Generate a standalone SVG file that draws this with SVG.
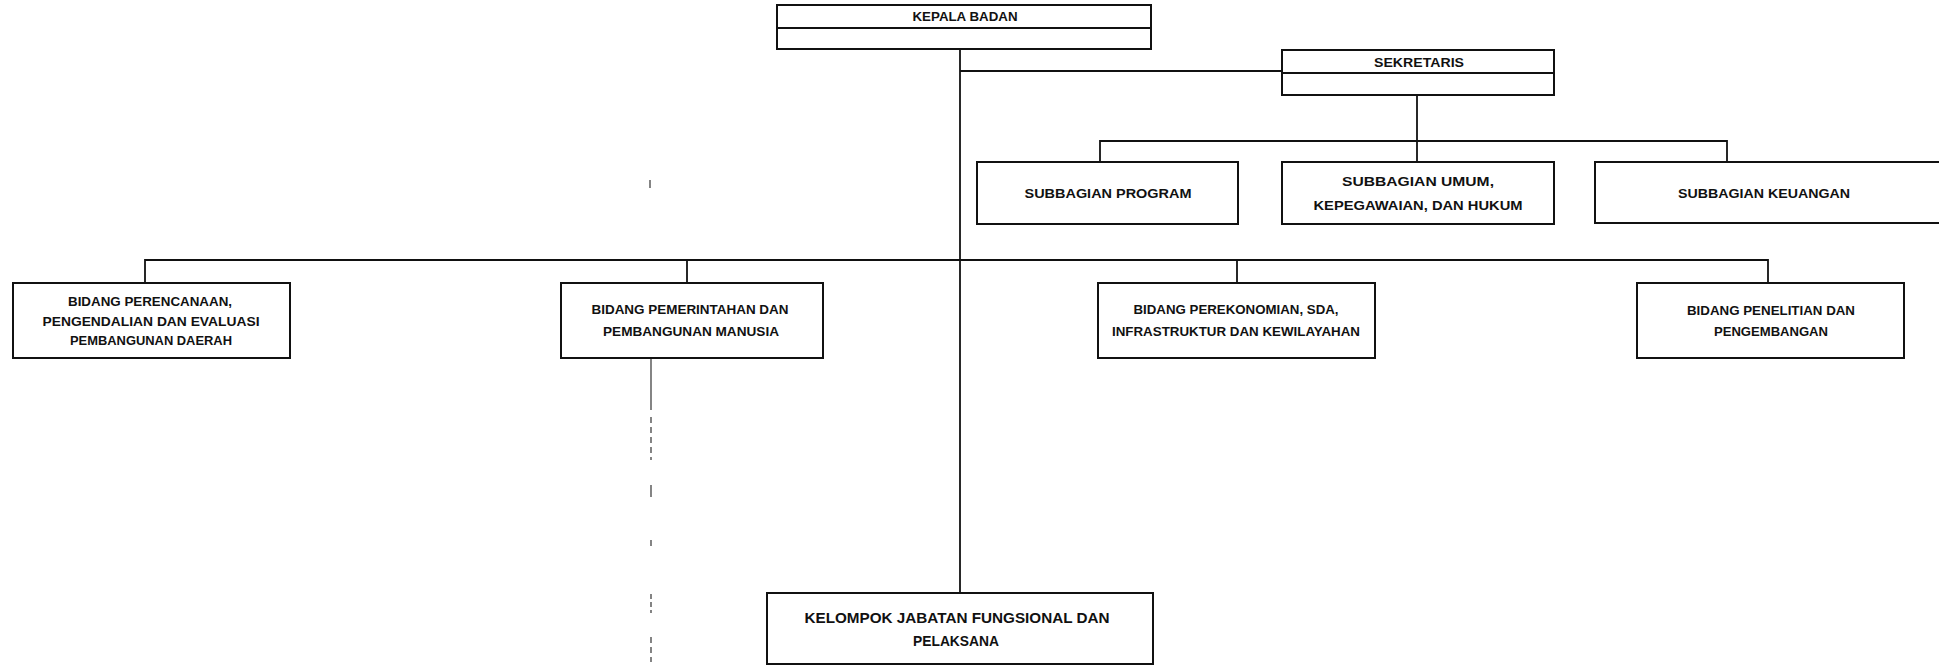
<svg xmlns="http://www.w3.org/2000/svg" width="1939" height="665" viewBox="0 0 1939 665">
<style>
.box{fill:#fff;stroke:#111;stroke-width:2}
.ln{fill:none;stroke:#111;stroke-width:1.8}
.dash{fill:none;stroke:#333;stroke-width:1.2}
text{font-family:"Liberation Sans",Arial,sans-serif;font-weight:bold;fill:#111;text-anchor:middle}
.s10{font-size:12px}
.s11{font-size:12.5px}
.s12{font-size:13.5px}
.s13{font-size:15px}
</style>
<rect width="1939" height="665" fill="#fff"/>
<g id="connectors">
<line class="ln" x1="960" y1="49" x2="960" y2="593"/>
<line class="ln" x1="960" y1="71" x2="1282" y2="71"/>
<line class="ln" x1="1417" y1="95" x2="1417" y2="141"/>
<polyline class="ln" points="1100,162 1100,141 1727,141 1727,162"/>
<line class="ln" x1="1417" y1="141" x2="1417" y2="162"/>
<polyline class="ln" points="145,283 145,260 1768,260 1768,283"/>
<line class="ln" x1="687" y1="260" x2="687" y2="283"/>
<line class="ln" x1="1237" y1="260" x2="1237" y2="283"/>
<g id="dashed-trace">
<line class="dash" x1="650" y1="180" x2="650" y2="188"/>
<line class="dash" x1="651" y1="346" x2="651" y2="352"/>
<line class="dash" x1="651" y1="359" x2="651" y2="410"/>
<line class="dash" x1="651" y1="417" x2="651" y2="460" stroke-dasharray="6,4"/>
<line class="dash" x1="651" y1="485" x2="651" y2="497"/>
<line class="dash" x1="651" y1="540" x2="651" y2="546"/>
<line class="dash" x1="651" y1="594" x2="651" y2="613" stroke-dasharray="5,3"/>
<line class="dash" x1="651" y1="637" x2="651" y2="662" stroke-dasharray="6,4"/>
</g>
</g>
<g id="kepala">
<rect class="box" x="777" y="5" width="374" height="44"/>
<line class="ln" x1="777" y1="28" x2="1151" y2="28"/>
<text class="s10" x="965" y="21" textLength="105" lengthAdjust="spacingAndGlyphs">KEPALA BADAN</text>
</g>
<g id="sekretaris">
<rect class="box" x="1282" y="50" width="272" height="45"/>
<line class="ln" x1="1282" y1="73" x2="1554" y2="73"/>
<text class="s11" x="1419" y="67" textLength="90" lengthAdjust="spacingAndGlyphs">SEKRETARIS</text>
</g>
<g id="sub-program">
<rect class="box" x="977" y="162" width="261" height="62"/>
<text class="s12" x="1108" y="198" textLength="167" lengthAdjust="spacingAndGlyphs">SUBBAGIAN PROGRAM</text>
</g>
<g id="sub-umum">
<rect class="box" x="1282" y="162" width="272" height="62"/>
<text class="s12" x="1418" y="186" textLength="152" lengthAdjust="spacingAndGlyphs">SUBBAGIAN UMUM,</text>
<text class="s12" x="1418" y="210" textLength="209" lengthAdjust="spacingAndGlyphs">KEPEGAWAIAN, DAN HUKUM</text>
</g>
<g id="sub-keuangan">
<rect class="box" x="1595" y="162" width="360" height="61"/>
<text class="s12" x="1764" y="198" textLength="172" lengthAdjust="spacingAndGlyphs">SUBBAGIAN KEUANGAN</text>
</g>
<g id="bidang-perencanaan">
<rect class="box" x="13" y="283" width="277" height="75"/>
<text class="s11" x="150" y="306" textLength="164" lengthAdjust="spacingAndGlyphs">BIDANG PERENCANAAN,</text>
<text class="s11" x="151" y="326" textLength="217" lengthAdjust="spacingAndGlyphs">PENGENDALIAN DAN EVALUASI</text>
<text class="s11" x="151" y="345" textLength="162" lengthAdjust="spacingAndGlyphs">PEMBANGUNAN DAERAH</text>
</g>
<g id="bidang-pemerintahan">
<rect class="box" x="561" y="283" width="262" height="75"/>
<text class="s11" x="690" y="314" textLength="197" lengthAdjust="spacingAndGlyphs">BIDANG PEMERINTAHAN DAN</text>
<text class="s11" x="691" y="336" textLength="176" lengthAdjust="spacingAndGlyphs">PEMBANGUNAN MANUSIA</text>
</g>
<g id="bidang-perekonomian">
<rect class="box" x="1098" y="283" width="277" height="75"/>
<text class="s11" x="1236" y="314" textLength="205" lengthAdjust="spacingAndGlyphs">BIDANG PEREKONOMIAN, SDA,</text>
<text class="s11" x="1236" y="336" textLength="248" lengthAdjust="spacingAndGlyphs">INFRASTRUKTUR DAN KEWILAYAHAN</text>
</g>
<g id="bidang-penelitian">
<rect class="box" x="1637" y="283" width="267" height="75"/>
<text class="s11" x="1771" y="315" textLength="168" lengthAdjust="spacingAndGlyphs">BIDANG PENELITIAN DAN</text>
<text class="s11" x="1771" y="336" textLength="114" lengthAdjust="spacingAndGlyphs">PENGEMBANGAN</text>
</g>
<g id="kelompok">
<rect class="box" x="767" y="593" width="386" height="71"/>
<text class="s13" x="957" y="623" textLength="305" lengthAdjust="spacingAndGlyphs">KELOMPOK JABATAN FUNGSIONAL DAN</text>
<text class="s13" x="956" y="646" textLength="86" lengthAdjust="spacingAndGlyphs">PELAKSANA</text>
</g>
</svg>
